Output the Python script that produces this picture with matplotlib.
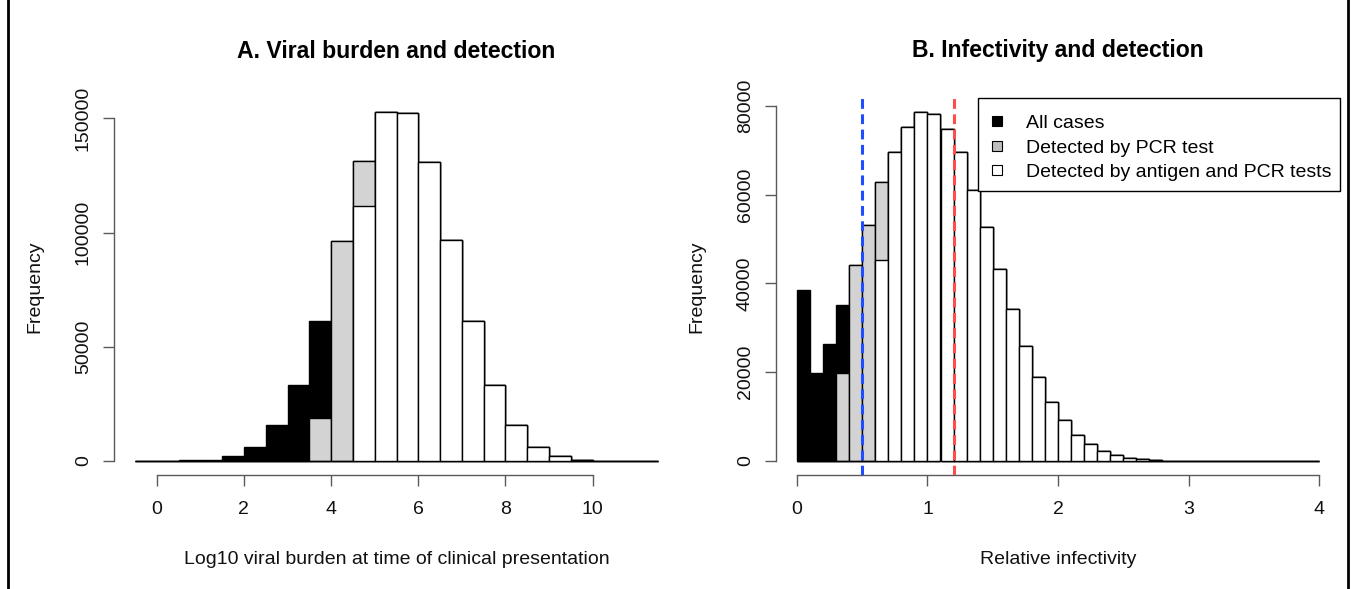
import numpy as np
import matplotlib
matplotlib.use('Agg')
import matplotlib.pyplot as plt
from matplotlib.patches import Rectangle
from matplotlib.lines import Line2D

plt.rcParams['font.family'] = ['Liberation Sans', 'DejaVu Sans']

# ---------------- Panel A data (bins of 0.5 log10 units) ----------------
a_bin_left = [-0.5, 0.0, 0.5, 1.0, 1.5, 2.0, 2.5, 3.0, 3.5, 4.0, 4.5, 5.0,
              5.5, 6.0, 6.5, 7.0, 7.5, 8.0, 8.5, 9.0, 9.5, 10.0, 10.5, 11.0]
a_bin_width = 0.5
a_all = [50, 150, 300, 600, 2000, 6100, 15700, 33200, 61100, 96400, 131200, 152800,
         152200, 131000, 96800, 61200, 33100, 15900, 6000, 2000, 600, 150, 50, 20]
a_pcr = [0, 0, 0, 0, 0, 0, 0, 0, 19000, 96400, 131200, 152800,
         152200, 131000, 96800, 61200, 33100, 15900, 6000, 2000, 600, 150, 50, 20]
a_ag = [0, 0, 0, 0, 0, 0, 0, 0, 0, 0, 111800, 152800,
        152200, 131000, 96800, 61200, 33100, 15900, 6000, 2000, 600, 150, 50, 20]
a_xticks = [0, 2, 4, 6, 8, 10]
a_yticks = [0, 50000, 100000, 150000]

# ---------------- Panel B data (bins of 0.1 relative infectivity) ----------------
b_bin_left = [0.0, 0.1, 0.2, 0.3, 0.4, 0.5, 0.6, 0.7, 0.8, 0.9,
              1.0, 1.1, 1.2, 1.3, 1.4, 1.5, 1.6, 1.7, 1.8, 1.9,
              2.0, 2.1, 2.2, 2.3, 2.4, 2.5, 2.6, 2.7, 2.8, 2.9,
              3.0, 3.1, 3.2, 3.3, 3.4, 3.5, 3.6, 3.7, 3.8, 3.9]
b_bin_width = 0.1
b_all = [38560, 19730, 26400, 35180, 44100, 53200, 62800, 69600, 75200, 78600,
         78200, 74800, 69500, 61100, 52700, 43300, 34200, 25900, 19000, 13350,
         9150, 5780, 3750, 2250, 1280, 680, 380, 200, 110, 60,
         30, 20, 10, 8, 5, 4, 3, 2, 1, 1]
b_pcr = [0, 0, 0, 19900, 44100, 53200, 62800, 69600, 75200, 78600,
         78200, 74800, 69500, 61100, 52700, 43300, 34200, 25900, 19000, 13350,
         9150, 5780, 3750, 2250, 1280, 680, 380, 200, 110, 60,
         30, 20, 10, 8, 5, 4, 3, 2, 1, 1]
b_ag = [0, 0, 0, 0, 0, 0, 45300, 69600, 75200, 78600,
        78200, 74800, 69500, 61100, 52700, 43300, 34200, 25900, 19000, 13350,
        9150, 5780, 3750, 2250, 1280, 680, 380, 200, 110, 60,
        30, 20, 10, 8, 5, 4, 3, 2, 1, 1]
b_xticks = [0, 1, 2, 3, 4]
b_yticks = [0, 20000, 40000, 60000, 80000]
b_thresholds = [0.5, 1.2]
b_threshold_colors = ['#1f4dff', '#ff4d4d']

legend_labels = ['All cases', 'Detected by PCR test', 'Detected by antigen and PCR tests']
legend_colors = ['black', '#bdbdbd', 'white']
titles = ['A. Viral burden and detection', 'B. Infectivity and detection']
xlabels = ['Log10 viral burden at time of clinical presentation', 'Relative infectivity']

COL_ALL = 'black'
COL_PCR = '#d3d3d3'
COL_AG = 'white'
AXCOL = '#5a5a5a'
FS = 14

W, H = 1353, 589
fig = plt.figure(figsize=(W / 100, H / 100), dpi=100)

# plot regions in pixels: (left, right, top, bottom)
regions = [(114, 679, 98, 475), (776, 1340, 98, 475)]
axes = []
for (l, r, t, b) in regions:
    ax = fig.add_axes([l / W, (H - b) / H, (r - l) / W, (b - t) / H])
    axes.append(ax)


def draw_hist(ax, left, width, layers):
    for vals, col in layers:
        ax.bar(left, vals, width=width, align='edge', color=col,
               edgecolor='black', linewidth=1.0, zorder=2)


def r_style(ax, left, width, ymax, xticks, yticks, title, xlabel):
    x0, x1 = left[0], left[-1] + width
    dx = 0.04 * (x1 - x0)
    ax.set_xlim(x0 - dx, x1 + dx)
    ax.set_ylim(-0.04 * ymax, 1.04 * ymax)
    for s in ['top', 'right']:
        ax.spines[s].set_visible(False)
    for s in ['left', 'bottom']:
        ax.spines[s].set_color(AXCOL)
        ax.spines[s].set_linewidth(1.0)
    ax.spines['left'].set_bounds(yticks[0], yticks[-1])
    ax.spines['bottom'].set_bounds(xticks[0], xticks[-1])
    ax.set_xticks(xticks)
    ax.set_xticklabels([str(v) for v in xticks])
    ax.set_yticks(yticks)
    ax.set_yticklabels([str(v) for v in yticks], rotation=90, va='center')
    ax.tick_params(axis='both', direction='out', length=8, width=1.0,
                   color=AXCOL, labelsize=FS, labelcolor='#111111')
    ax.tick_params(axis='x', pad=11)
    ax.tick_params(axis='y', pad=8)
    ax.set_ylabel('Frequency', fontsize=FS, color='#111111')
    ax.yaxis.set_label_coords(-79 / 565, 0.5)
    ax.yaxis.label.set_va('center')
    ax.set_xlabel(xlabel, fontsize=FS, color='#111111')
    ax.xaxis.set_label_coords(0.5, -85 / 377)
    ax.xaxis.label.set_va('center')
    ax.text(0.5, 1 + 47 / 377, title, transform=ax.transAxes, ha='center',
            va='center', fontsize=16.6, fontweight='bold', color='black')


axA, axB = axes
draw_hist(axA, a_bin_left, a_bin_width,
          [(a_all, COL_ALL), (a_pcr, COL_PCR), (a_ag, COL_AG)])
r_style(axA, a_bin_left, a_bin_width, max(a_all), a_xticks, a_yticks,
        titles[0], xlabels[0])

draw_hist(axB, b_bin_left, b_bin_width,
          [(b_all, COL_ALL), (b_pcr, COL_PCR), (b_ag, COL_AG)])
r_style(axB, b_bin_left, b_bin_width, max(b_all), b_xticks, b_yticks,
        titles[1], xlabels[1])
for xv, c in zip(b_thresholds, b_threshold_colors):
    axB.axvline(xv, color=c, linewidth=2.2, dashes=(3.2, 1.8), zorder=3)

# legend: frameless content, with an R-style frame drawn around it
handles = [Line2D([], [], linestyle='none', marker='s', markersize=7.8,
                  markerfacecolor=c, markeredgecolor='black', markeredgewidth=0.8)
           for c in legend_colors]
pad_h = 8.0        # horizontal inner padding, px
extra_top = 8.5    # additional top padding, px
extra_bottom = 2.5 # additional bottom padding, px
axh_px = 377.0
leg = axB.legend(handles, legend_labels, loc='upper right',
                 bbox_to_anchor=(1, 1 - extra_top / axh_px),
                 borderaxespad=0, frameon=False, fontsize=FS,
                 handlelength=1.15, handletextpad=0.92,
                 borderpad=pad_h / (FS * 100 / 72), labelspacing=0.35)
leg.set_zorder(6)
fig.canvas.draw()
bb = leg.get_window_extent(fig.canvas.get_renderer())
inv = axB.transAxes.inverted()
(lx0, ly0), (lx1, ly1) = inv.transform([[bb.x0, bb.y0], [bb.x1, bb.y1]])
frame_bottom = ly0 - extra_bottom / axh_px
axB.add_patch(Rectangle((lx0, frame_bottom), 1 - lx0, 1 - frame_bottom,
                        transform=axB.transAxes, facecolor='white',
                        edgecolor='black', linewidth=1.0, zorder=5,
                        clip_on=False))

# outer frame lines of the screenshot
fig.add_artist(Line2D([8 / W, 8 / W], [0, 1], transform=fig.transFigure,
                      color='black', linewidth=2))
fig.add_artist(Line2D([1348 / W, 1348 / W], [0, 1], transform=fig.transFigure,
                      color='black', linewidth=2))

fig.savefig('out.png', dpi=100)
